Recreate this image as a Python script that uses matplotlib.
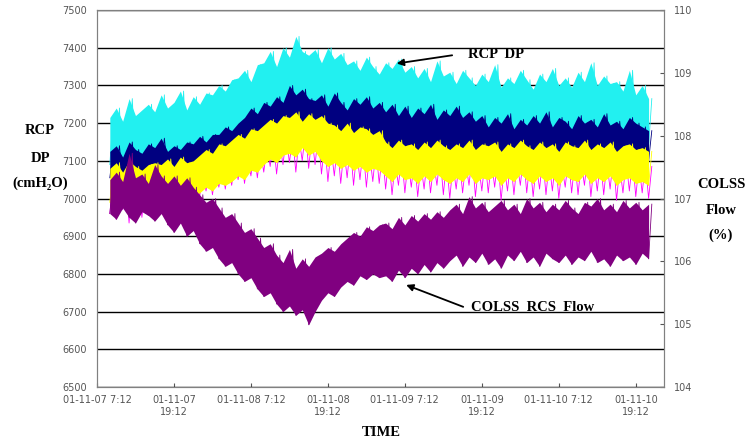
import numpy as np
import matplotlib.pyplot as plt

# hours after 01-11-07 7:12, one reading pair (low, high) per hour
hours = np.arange(2, 87)

cyan_hi = [7215, 7240, 7205, 7265, 7220, 7235, 7250,
           7230, 7275, 7240, 7255, 7285, 7235, 7270, 7250, 7280,
           7275, 7300, 7285, 7315,
           7320, 7340, 7310, 7355,
           7360, 7390, 7350,
           7400, 7375, 7430, 7390,
           7380, 7395, 7360, 7400, 7370, 7385, 7355,
           7365, 7340, 7375, 7350, 7330, 7360, 7345, 7370, 7335, 7350,
           7320, 7345, 7310, 7365, 7325, 7335, 7305, 7340, 7320,
           7300, 7330, 7310, 7355, 7295, 7320, 7305, 7340, 7315, 7290, 7330,
           7310, 7345, 7300, 7320, 7295, 7335, 7310, 7360, 7300, 7325, 7305,
           7310, 7285, 7340, 7275, 7300, 7265]
cyan_lo = [7090, 7100, 7075, 7110, 7095, 7085, 7105, 7095, 7115, 7090, 7100, 7095, 7110,
           7105, 7125, 7110, 7130,
           7130, 7150, 7140, 7160,
           7175, 7200, 7185, 7210, 7205,
           7230, 7215, 7255, 7235, 7250, 7225,
           7220, 7235, 7205, 7240, 7215, 7195, 7225, 7210, 7230, 7200, 7215,
           7190, 7210, 7180, 7205, 7175, 7200, 7185, 7210, 7170, 7195, 7180, 7205, 7175, 7190,
           7165, 7180, 7150, 7175, 7160, 7185, 7145, 7170, 7155, 7180, 7160, 7190, 7150, 7175,
           7165, 7145, 7180, 7160, 7170, 7150, 7185, 7155, 7165, 7145, 7175, 7160, 7150, 7140]

navy_hi = [7125, 7140, 7110, 7150, 7130, 7120, 7145, 7135, 7160, 7125, 7140, 7130, 7150,
           7145, 7165, 7150, 7170,
           7170, 7190, 7180, 7200,
           7215, 7240, 7225, 7255, 7245,
           7270, 7255, 7300, 7275, 7290, 7265,
           7260, 7275, 7245, 7280, 7255, 7235, 7265, 7250, 7270, 7240, 7255,
           7230, 7250, 7220, 7245, 7215, 7240, 7225, 7250, 7210, 7235, 7220, 7245, 7215, 7230,
           7205, 7220, 7190, 7215, 7200, 7225, 7185, 7210, 7195, 7220, 7200, 7230, 7190, 7215,
           7205, 7185, 7220, 7200, 7210, 7190, 7225, 7195, 7205, 7185, 7215, 7200, 7190, 7180]
navy_lo = [7055, 7070, 7045, 7075, 7060, 7050, 7065, 7070,
           7065, 7080, 7060, 7085, 7070, 7075,
           7090, 7105, 7095, 7120, 7115,
           7130, 7145, 7135, 7160, 7155,
           7170, 7185, 7175, 7195,
           7190, 7205, 7180, 7200, 7185, 7195, 7175,
           7170, 7155, 7175, 7150, 7165, 7160, 7145, 7155,
           7125, 7110, 7130, 7115, 7120, 7105, 7125, 7110, 7130, 7115, 7105, 7120, 7110, 7130,
           7105, 7120, 7115, 7125, 7100, 7120, 7110, 7130, 7115, 7105, 7125, 7110, 7120, 7100,
           7125, 7115, 7110, 7130, 7105, 7120, 7110, 7125, 7100, 7115, 7120, 7105, 7110, 7100]

yellow_hi = [7080, 7095, 7070, 7100, 7085, 7075, 7090, 7095,
             7090, 7105, 7085, 7110, 7095, 7100,
             7115, 7130, 7120, 7145, 7140,
             7155, 7170, 7160, 7185, 7180,
             7195, 7210, 7200, 7220,
             7215, 7230, 7205, 7225, 7210, 7220, 7200,
             7195, 7180, 7200, 7175, 7190, 7185, 7170, 7180,
             7150, 7135, 7155, 7140, 7145, 7130, 7150, 7135, 7155, 7140, 7130, 7145, 7135, 7155,
             7130, 7145, 7140, 7150, 7125, 7145, 7135, 7155, 7140, 7130, 7150, 7135, 7145, 7125,
             7150, 7140, 7135, 7155, 7130, 7145, 7135, 7150, 7125, 7140, 7145, 7130, 7135, 7125]
yellow_lo = [6990, 6975, 7000, 6985, 6995, 6970, 6990, 7000,
             7000, 6990, 7010, 6995, 7005, 7010,
             7015, 7030, 7020, 7040, 7035,
             7045, 7060, 7050, 7075, 7070,
             7090, 7105, 7095, 7115,
             7120, 7110, 7135, 7115, 7125,
             7100, 7085, 7095, 7080, 7090, 7075, 7085, 7070, 7080, 7075,
             7060, 7045, 7065, 7050, 7055, 7040, 7060, 7045, 7065, 7050, 7040, 7055, 7045, 7065,
             7040, 7055, 7050, 7060, 7035, 7055, 7045, 7065, 7050, 7040, 7060, 7045, 7055, 7035,
             7060, 7050, 7045, 7065, 7040, 7055, 7045, 7060, 7035, 7050, 7055, 7040, 7045, 7035]

magenta_hi = [7040, 7030, 7050, 7035, 7045, 7025, 7040, 7050,
              7050, 7045, 7060, 7050, 7055, 7060,
              7065, 7080, 7070, 7090, 7085,
              7100, 7115, 7105, 7130, 7125,
              7140, 7155, 7145, 7165,
              7165, 7160, 7180, 7165, 7170,
              7150, 7135, 7145, 7130, 7140, 7125, 7135, 7120, 7130, 7125,
              7110, 7095, 7115, 7100, 7105, 7090, 7110, 7095, 7115, 7100, 7090, 7105, 7095, 7115,
              7090, 7105, 7100, 7110, 7085, 7105, 7095, 7115, 7100, 7090, 7110, 7095, 7105, 7085,
              7110, 7100, 7095, 7115, 7090, 7105, 7095, 7110, 7085, 7100, 7105, 7090, 7095, 7085]
magenta_lo = [6960, 6945, 6970, 6935, 6965, 6950, 6975, 6960,
              6980, 6990, 6975, 7000, 6985, 6995,
              7005, 7020, 7010, 7030, 7025,
              7035, 7050, 7040, 7060, 7055,
              7070, 7085, 7065, 7090,
              7095, 7070, 7100, 7080, 7090,
              7065, 7045, 7060, 7040, 7055, 7035, 7050, 7030, 7045, 7040,
              7025, 7010, 7035, 7015, 7030, 7005, 7025, 7015, 7035, 7010, 7000, 7025, 7015, 7035,
              7005, 7020, 7015, 7030, 6995, 7020, 7010, 7035, 7015, 7005, 7025, 7010, 7020, 7000,
              7030, 7015, 7010, 7035, 7005, 7020, 7010, 7025, 6995, 7015, 7020, 7005, 7015, 7000]

# COLSS RCS flow (%), right axis
colss_hi = [107.30, 107.42, 107.27, 107.72, 107.33, 107.39, 107.24, 107.54, 107.36,
            107.24, 107.36, 107.21, 107.33, 107.18,
            107.06, 106.94, 107.00,
            106.85, 106.70, 106.76,
            106.61, 106.46, 106.52,
            106.37, 106.22, 106.28,
            106.10, 105.98, 106.19, 105.89, 106.04, 105.92, 106.07,
            106.13, 106.22, 106.16, 106.28,
            106.37, 106.46, 106.40, 106.55, 106.49, 106.58,
            106.61, 106.52, 106.70, 106.58, 106.73, 106.64, 106.76, 106.67, 106.79, 106.70,
            106.82, 106.91, 106.76, 107.03, 106.85, 106.94, 106.79, 106.88, 106.97, 106.82,
            106.91, 106.76, 107.00, 106.85, 106.94, 106.79, 106.91, 106.82, 106.97, 106.85,
            106.76, 106.94, 106.88, 107.00, 106.82, 106.91, 106.79, 106.97, 106.85, 106.94,
            106.82, 106.91]
colss_lo = [106.76, 106.67, 106.85, 106.70, 106.61, 106.79, 106.73, 106.64, 106.76,
            106.58, 106.46, 106.61, 106.40, 106.49,
            106.28, 106.16, 106.22,
            106.04, 105.92, 105.98,
            105.80, 105.68, 105.74,
            105.56, 105.44, 105.50,
            105.32, 105.20, 105.29, 105.14, 105.23, 104.99, 105.20,
            105.38, 105.50, 105.44, 105.59,
            105.68, 105.62, 105.77, 105.71, 105.80, 105.74,
            105.77, 105.68, 105.86, 105.74, 105.89, 105.80, 105.95, 105.83, 105.98, 105.89,
            106.01, 106.10, 105.92, 106.07, 105.98, 106.13, 105.95, 106.04, 105.89, 106.10,
            106.01, 106.16, 105.98, 106.07, 105.92, 106.13, 106.04, 105.98, 106.10, 105.95,
            106.07, 106.01, 106.16, 105.98, 106.04, 105.92, 106.10, 106.01, 106.07, 105.95,
            106.13, 106.04]

tick_hours = [0, 12, 24, 36, 48, 60, 72, 84]
tick_labels = ["01-11-07 7:12", "01-11-07\n19:12", "01-11-08 7:12", "01-11-08\n19:12",
               "01-11-09 7:12", "01-11-09\n19:12", "01-11-10 7:12", "01-11-10\n19:12"]


def draw_band(ax, lo, hi, color, z, fill=True):
    lo = np.array(lo)
    hi = np.array(hi)
    if fill:
        ax.fill_between(hours, lo, hi, color=color, lw=0, zorder=z)
    xs = np.column_stack([hours, hours + 0.5]).ravel()
    ys = np.column_stack([lo, hi]).ravel()
    ax.plot(xs, ys, color=color, lw=0.6, zorder=z)


serif = ['Liberation Serif', 'DejaVu Serif']
grey = '#808080'

fig = plt.figure(figsize=(7.56, 4.43), dpi=100)
ax = fig.add_axes([0.1283, 0.1264, 0.7500, 0.8510])

draw_band(ax, cyan_lo, cyan_hi, '#22F0F0', 2)
draw_band(ax, navy_lo, navy_hi, '#000080', 3)
draw_band(ax, magenta_lo, magenta_hi, '#FF00FF', 4, fill=False)
draw_band(ax, yellow_lo, yellow_hi, '#FFFF00', 5)

ax.set_xlim(0, 88.4)
ax.set_ylim(6500, 7500)
ax.set_yticks(np.arange(6500, 7501, 100))
ax.set_xticks(tick_hours)
ax.set_xticklabels(tick_labels, va='top')
ax.grid(axis='y', color='black', lw=1)
ax.set_axisbelow(True)
ax.tick_params(axis='x', direction='in', length=3, pad=6, labelsize=7, colors='#555555')
ax.tick_params(axis='y', length=0, pad=7, labelsize=7, colors='#555555')
for s in ax.spines.values():
    s.set_color(grey)

ax2 = ax.twinx()
draw_band(ax2, colss_lo, colss_hi, '#800080', 2)
ax2.set_ylim(104, 110)
ax2.set_yticks(np.arange(104, 111, 1))
ax2.tick_params(axis='y', direction='in', length=3, pad=7, labelsize=7, colors='#555555')
for s in ax2.spines.values():
    s.set_color(grey)

# arrows and labels
ax.annotate("", xy=(46.3, 7357), xytext=(55.8, 7381),
            arrowprops=dict(arrowstyle='-|>', color='black', lw=1.3, mutation_scale=10),
            zorder=10)
ax.text(57.8, 7381, "RCP  DP", family=serif, weight='bold', fontsize=10.5,
        ha='left', va='center', zorder=10)
ax2.annotate("", xy=(47.8, 105.64), xytext=(57.5, 105.26),
             arrowprops=dict(arrowstyle='-|>', color='black', lw=1.3, mutation_scale=10),
             zorder=10)
ax2.text(58.3, 105.27, "COLSS  RCS  Flow", family=serif, weight='bold', fontsize=10.5,
         ha='left', va='center', zorder=10)

for label, ypix in [("RCP", 131), ("DP", 158), ("(cmH₂O)", 183)]:
    fig.text(40 / 756, 1 - ypix / 443, label, family=serif, weight='bold',
             fontsize=10.5, ha='center', va='center')
for label, ypix in [("COLSS", 184), ("Flow", 210), ("(%)", 235)]:
    fig.text(721 / 756, 1 - ypix / 443, label, family=serif, weight='bold',
             fontsize=10.5, ha='center', va='center')
fig.text(381 / 756, 1 - 433 / 443, "TIME", family=serif, weight='bold',
         fontsize=10.5, ha='center', va='center')

fig.savefig('out.png', dpi=100)
